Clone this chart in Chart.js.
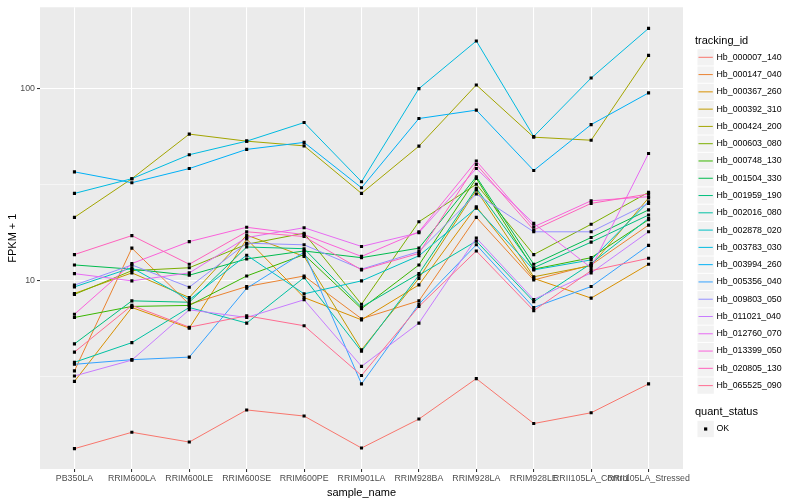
<!DOCTYPE html>
<html>
<head>
<meta charset="utf-8">
<script src="https://cdn.jsdelivr.net/npm/chart.js@4.4.0/dist/chart.umd.min.js"></script>
<style>
  html, body { margin: 0; padding: 0; background: #fff; }
  #wrap { width: 800px; height: 500px; }
</style>
</head>
<body>
<div id="wrap"><canvas id="chart" width="800" height="500"></canvas></div>
<script>
const samples = ["PB350LA", "RRIM600LA", "RRIM600LE", "RRIM600SE", "RRIM600PE", "RRIM901LA",
                 "RRIM928BA", "RRIM928LA", "RRIM928LE", "RRII105LA_Control", "RRII105LA_Stressed"];
const yTicks = [10, 100];
const quantStatus = ["OK"];

// FPKM + 1 per gene, one value per sample
const hb_000007_140 = [1.34, 1.63, 1.45, 2.13, 1.98, 1.35, 1.91, 3.10, 1.81, 2.06, 2.91];
const hb_000147_040 = [3.4, 14.8, 7.55, 9.34, 10.6, 6.35, 7.87, 21.4, 10.1, 12.1, 19.5];
const hb_000367_260 = [3.0, 7.27, 5.68, 16.5, 8.19, 6.27, 9.53, 24.3, 10.3, 8.13, 12.2];
const hb_000392_310 = [8.6, 11.0, 8.19, 17.3, 13.4, 4.38, 10.3, 29.7, 10.5, 12.0, 27.0];
const hb_000424_200 = [21.4, 34.0, 58.0, 53.3, 50.4, 28.5, 50.2, 104.5, 55.9, 53.9, 149];
const hb_000603_080 = [8.5, 11.3, 11.7, 15.5, 17.7, 7.56, 20.3, 31.8, 13.7, 19.7, 28.9];
const hb_000748_130 = [6.45, 7.36, 7.45, 10.6, 13.7, 7.16, 12.1, 34.1, 11.5, 13.2, 20.8];
const hb_001504_330 = [12.1, 11.5, 10.7, 13.0, 14.3, 13.2, 14.8, 34.8, 12.2, 16.8, 23.4];
const hb_001959_190 = [4.7, 7.87, 7.74, 15.0, 14.7, 7.3, 10.9, 30.3, 11.7, 15.9, 22.0];
const hb_002016_080 = [3.77, 4.77, 7.27, 6.03, 10.4, 4.30, 10.7, 16.1, 7.8, 12.3, 21.1];
const hb_002878_020 = [9.3, 11.7, 7.97, 13.6, 8.56, 10.0, 13.5, 23.9, 11.4, 12.85, 25.8];
const hb_003783_030 = [28.5, 34.0, 45.3, 53.3, 66.6, 32.8, 100, 177, 56.4, 113.6, 205.8];
const hb_003994_260 = [36.9, 32.4, 38.4, 48.3, 52.5, 30.5, 69.9, 77.3, 37.5, 65.0, 95.0];
const hb_005356_040 = [3.68, 3.89, 4.01, 9.15, 14.1, 2.91, 7.56, 15.4, 7.27, 9.34, 15.3];
const hb_009803_050 = [9.5, 12.1, 9.27, 15.7, 15.4, 11.5, 14.2, 28.3, 18.0, 18.0, 25.3];
const hb_011021_040 = [3.2, 3.87, 7.07, 6.45, 7.97, 3.59, 6.03, 16.7, 8.0, 11.0, 18.0];
const hb_012760_070 = [10.9, 10.0, 11.0, 16.8, 18.9, 15.1, 17.8, 38.4, 19.9, 11.7, 46.0];
const hb_013399_050 = [6.7, 12.3, 16.0, 19.0, 17.4, 13.4, 18.0, 42.0, 19.1, 26.1, 27.4];
const hb_020805_130 = [13.7, 17.2, 12.2, 18.0, 17.0, 11.4, 13.9, 40.3, 18.4, 25.3, 28.3];
const hb_065525_090 = [4.26, 7.45, 5.74, 6.58, 5.84, 3.22, 7.36, 14.3, 7.0, 11.3, 13.1];

const trackingIds = ["Hb_000007_140", "Hb_000147_040", "Hb_000367_260", "Hb_000392_310", "Hb_000424_200",
  "Hb_000603_080", "Hb_000748_130", "Hb_001504_330", "Hb_001959_190", "Hb_002016_080",
  "Hb_002878_020", "Hb_003783_030", "Hb_003994_260", "Hb_005356_040", "Hb_009803_050",
  "Hb_011021_040", "Hb_012760_070", "Hb_013399_050", "Hb_020805_130", "Hb_065525_090"];
const series = [hb_000007_140, hb_000147_040, hb_000367_260, hb_000392_310, hb_000424_200,
  hb_000603_080, hb_000748_130, hb_001504_330, hb_001959_190, hb_002016_080,
  hb_002878_020, hb_003783_030, hb_003994_260, hb_005356_040, hb_009803_050,
  hb_011021_040, hb_012760_070, hb_013399_050, hb_020805_130, hb_065525_090];

// ggplot default hue palette for 20 levels
const palette = ["#F8766D", "#EA8331", "#D89000", "#C09B00", "#A3A500", "#7CAE00", "#39B600", "#00BB4E",
  "#00BF7D", "#00C1A3", "#00BFC4", "#00BAE0", "#00B0F6", "#35A2FF", "#9590FF", "#C77CFF",
  "#E76BF3", "#FA62DB", "#FF62BC", "#FF6C91"];

const FONT = '"Liberation Sans", Arial, Helvetica, sans-serif';
Chart.defaults.font.family = FONT;

const toPoints = vals => vals.map((v, i) => ({x: i, y: v}));

const datasets = [];
series.forEach((vals, i) => {
  datasets.push({
    label: trackingIds[i],
    data: toPoints(vals),
    borderColor: palette[i],
    borderWidth: 1,
    pointRadius: 0,
    fill: false,
    order: series.length - i + 1
  });
});
// points on top of every line, like geom_point after geom_line
series.forEach((vals, i) => {
  datasets.push({
    label: trackingIds[i] + " " + quantStatus[0],
    data: toPoints(vals),
    showLine: false,
    pointStyle: "rect",
    pointRadius: 2.2,
    pointBorderWidth: 0,
    pointBackgroundColor: "#000",
    order: 0
  });
});

const minorTicks = [Math.sqrt(10), Math.sqrt(1000)];

const panelBg = {
  id: "panelBg",
  beforeDraw(chart) {
    const {ctx, chartArea: a} = chart;
    ctx.save();
    ctx.fillStyle = "#EBEBEB";
    ctx.fillRect(a.left, a.top, a.right - a.left, a.bottom - a.top);
    ctx.restore();
  }
};

const ggLegend = {
  id: "ggLegend",
  afterDraw(chart) {
    const ctx = chart.ctx;
    const x0 = 697, keyW = 17.3, step = 17.28;
    let top = 57.3 - step / 2;
    ctx.save();
    ctx.textAlign = "left";
    ctx.textBaseline = "middle";
    ctx.fillStyle = "#000";
    ctx.font = "11px " + FONT;
    ctx.fillText("tracking_id", 695, 40.5);
    ctx.font = "8.8px " + FONT;
    trackingIds.forEach((id, i) => {
      const y = top + i * step;
      ctx.fillStyle = "#F2F2F2";
      ctx.fillRect(x0 + 0.5, y + 0.5, keyW - 1, step - 1);
      ctx.strokeStyle = palette[i];
      ctx.lineWidth = 1;
      ctx.beginPath();
      ctx.moveTo(x0 + 1.5, y + step / 2);
      ctx.lineTo(x0 + keyW - 1.5, y + step / 2);
      ctx.stroke();
      ctx.fillStyle = "#000";
      ctx.fillText(id, 716.5, y + step / 2);
    });
    ctx.font = "11px " + FONT;
    ctx.fillText("quant_status", 695, 412);
    const ky = 429 - step / 2;
    ctx.fillStyle = "#F2F2F2";
    ctx.fillRect(x0 + 0.5, ky + 0.5, keyW - 1, step - 1);
    ctx.fillStyle = "#000";
    ctx.fillRect(x0 + keyW / 2 - 1.6, 429 - 1.6, 3.2, 3.2);
    ctx.font = "8.8px " + FONT;
    quantStatus.forEach((s, i) => ctx.fillText(s, 716.5, 429 + i * step));
    ctx.restore();
  }
};

new Chart("chart", {
  type: "line",
  data: {datasets: datasets},
  options: {
    responsive: false,
    animation: false,
    events: [],
    layout: {padding: {top: 5, right: 117, left: 0, bottom: 0}},
    plugins: {legend: {display: false}, tooltip: {enabled: false}},
    scales: {
      x: {
        type: "linear",
        min: -0.6,
        max: 10.6,
        afterBuildTicks: s => { s.ticks = samples.map((_, i) => ({value: i})); },
        afterFit: s => { s.height = 31; },
        border: {display: false},
        grid: {color: "#FFFFFF", lineWidth: 1.07, tickColor: "#333333", tickLength: 3, drawTicks: true},
        ticks: {
          autoSkip: false, maxRotation: 0, minRotation: 0, padding: 1,
          color: "#4D4D4D", font: {size: 8.8},
          callback: v => samples[v]
        },
        title: {display: true, text: "sample_name", color: "#000", font: {size: 11}, padding: {top: 5, bottom: 0}}
      },
      y: {
        type: "logarithmic",
        min: 1.05,
        max: 265,
        afterBuildTicks: s => {
          s.ticks = [minorTicks[0], yTicks[0], minorTicks[1], yTicks[1]].map(v => ({value: v}));
        },
        afterFit: s => { s.width = 40; },
        border: {display: false},
        grid: {
          color: "#FFFFFF",
          lineWidth: c => (yTicks.includes(c.tick.value) ? 1.07 : 0.53),
          tickColor: c => (yTicks.includes(c.tick.value) ? "#333333" : "rgba(0,0,0,0)"),
          tickLength: 3
        },
        ticks: {
          padding: 2, color: "#4D4D4D", font: {size: 8.8},
          callback: v => (yTicks.includes(v) ? String(v) : "")
        },
        title: {display: true, text: "FPKM + 1", color: "#000", font: {size: 11}, padding: {top: 6, bottom: 0}}
      }
    }
  },
  plugins: [panelBg, ggLegend]
});
</script>
</body>
</html>
